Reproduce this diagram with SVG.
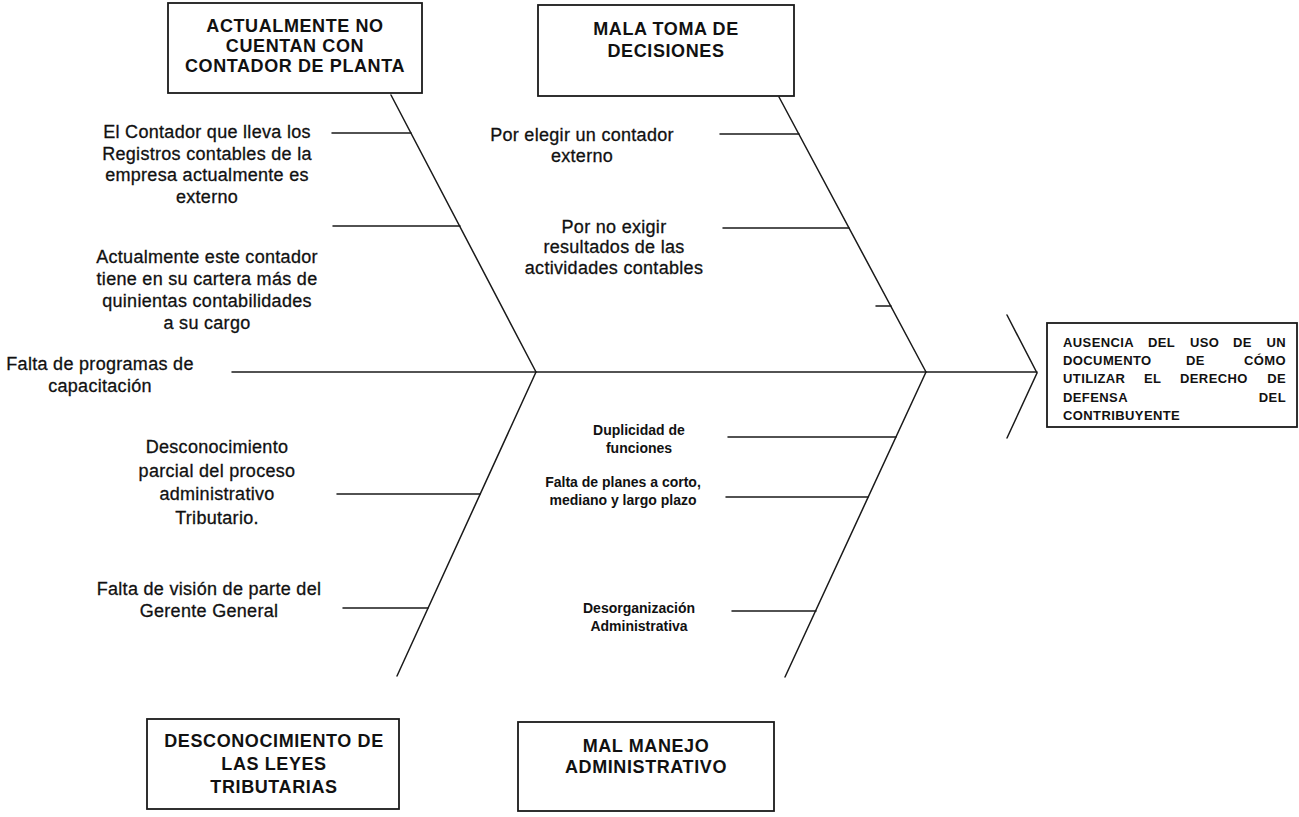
<svg xmlns="http://www.w3.org/2000/svg" width="1299" height="817" viewBox="0 0 1299 817">
<style>
.bg{fill:#fff}
.box{fill:#fff;stroke:#1a1a1a;stroke-width:1.8}
.ln{stroke:#1a1a1a;stroke-width:1.5;fill:none;stroke-linecap:round}
.t{font-family:"Liberation Sans",Arial,sans-serif;font-size:18px;fill:#111;stroke:#111;stroke-width:0.3;text-anchor:middle;letter-spacing:0.3px}
.h{font-family:"Liberation Sans",Arial,sans-serif;font-size:18px;font-weight:bold;fill:#111;text-anchor:middle;letter-spacing:0.6px}
.s{font-family:"Liberation Sans",Arial,sans-serif;font-size:14px;font-weight:bold;fill:#111;text-anchor:middle}
.e{font-family:"Liberation Sans",Arial,sans-serif;font-size:13px;font-weight:bold;fill:#111;letter-spacing:0.4px}
.end{text-anchor:end}
</style>
<rect class="bg" x="0" y="0" width="1299" height="817"/>

<g id="connectors">
  <line class="ln" x1="232" y1="372" x2="1037" y2="372"/>
  <polyline class="ln" points="1007,315 1037,373 1007,438"/>
  <line class="ln" x1="391" y1="95" x2="536" y2="372"/>
  <line class="ln" x1="536" y1="372" x2="397" y2="676"/>
  <line class="ln" x1="779" y1="97" x2="926" y2="372"/>
  <line class="ln" x1="926" y1="372" x2="785" y2="677"/>
  <line class="ln" x1="332" y1="133" x2="411" y2="133"/>
  <line class="ln" x1="333" y1="226" x2="460" y2="226"/>
  <line class="ln" x1="720" y1="134" x2="799" y2="134"/>
  <line class="ln" x1="723" y1="228" x2="849" y2="228"/>
  <line class="ln" x1="876" y1="306" x2="891" y2="306"/>
  <line class="ln" x1="337" y1="494" x2="480" y2="494"/>
  <line class="ln" x1="343" y1="608" x2="428" y2="608"/>
  <line class="ln" x1="728" y1="437" x2="896" y2="437"/>
  <line class="ln" x1="726" y1="497" x2="868" y2="497"/>
  <line class="ln" x1="732" y1="611" x2="816" y2="611"/>
</g>

<g id="cat-contador">
  <rect class="box" x="168" y="3" width="254" height="90"/>
  <text class="h" x="295" y="32">ACTUALMENTE NO</text>
  <text class="h" x="295" y="52">CUENTAN CON</text>
  <text class="h" x="295" y="72">CONTADOR DE PLANTA</text>
</g>

<g id="cat-decisiones">
  <rect class="box" x="538" y="5" width="256" height="91"/>
  <text class="h" x="666" y="35">MALA TOMA DE</text>
  <text class="h" x="666" y="57">DECISIONES</text>
</g>

<g id="cat-leyes">
  <rect class="box" x="147" y="719" width="252" height="90"/>
  <text class="h" x="274" y="747">DESCONOCIMIENTO DE</text>
  <text class="h" x="274" y="770">LAS LEYES</text>
  <text class="h" x="274" y="793">TRIBUTARIAS</text>
</g>

<g id="cat-manejo">
  <rect class="box" x="518" y="722" width="256" height="89"/>
  <text class="h" x="646" y="752">MAL MANEJO</text>
  <text class="h" x="646" y="773">ADMINISTRATIVO</text>
</g>

<g id="effect">
  <rect class="box" x="1047" y="323" width="250" height="104"/>
  <text class="e" x="1063" y="347">AUSENCIA</text>
  <text class="e" x="1148" y="347">DEL</text>
  <text class="e" x="1190" y="347">USO</text>
  <text class="e" x="1233" y="347">DE</text>
  <text class="e end" x="1286" y="347">UN</text>
  <text class="e" x="1063" y="365">DOCUMENTO</text>
  <text class="e" x="1186" y="365">DE</text>
  <text class="e end" x="1286" y="365">CÓMO</text>
  <text class="e" x="1063" y="383">UTILIZAR</text>
  <text class="e" x="1144" y="383">EL</text>
  <text class="e" x="1180" y="383">DERECHO</text>
  <text class="e end" x="1286" y="383">DE</text>
  <text class="e" x="1063" y="402">DEFENSA</text>
  <text class="e end" x="1286" y="402">DEL</text>
  <text class="e" x="1063" y="420">CONTRIBUYENTE</text>
</g>

<g id="cause-externo">
  <text class="t" x="207" y="138">El Contador que lleva los</text>
  <text class="t" x="207" y="160">Registros contables de la</text>
  <text class="t" x="207" y="181">empresa actualmente es</text>
  <text class="t" x="207" y="203">externo</text>
</g>

<g id="cause-cartera">
  <text class="t" x="207" y="263">Actualmente este contador</text>
  <text class="t" x="207" y="285">tiene en su cartera más de</text>
  <text class="t" x="207" y="307">quinientas contabilidades</text>
  <text class="t" x="207" y="329">a su cargo</text>
</g>

<g id="cause-capacitacion">
  <text class="t" x="100" y="370">Falta de programas de</text>
  <text class="t" x="100" y="392">capacitación</text>
</g>

<g id="cause-proceso">
  <text class="t" x="217" y="453">Desconocimiento</text>
  <text class="t" x="217" y="477">parcial del proceso</text>
  <text class="t" x="217" y="500">administrativo</text>
  <text class="t" x="217" y="524">Tributario.</text>
</g>

<g id="cause-vision">
  <text class="t" x="209" y="595">Falta de visión de parte del</text>
  <text class="t" x="209" y="617">Gerente General</text>
</g>

<g id="cause-elegir">
  <text class="t" x="582" y="141">Por elegir un contador</text>
  <text class="t" x="582" y="162">externo</text>
</g>

<g id="cause-exigir">
  <text class="t" x="614" y="233">Por no exigir</text>
  <text class="t" x="614" y="253">resultados de las</text>
  <text class="t" x="614" y="274">actividades contables</text>
</g>

<g id="cause-duplicidad">
  <text class="s" x="639" y="435">Duplicidad de</text>
  <text class="s" x="639" y="453">funciones</text>
</g>

<g id="cause-planes">
  <text class="s" x="623" y="487">Falta de planes a corto,</text>
  <text class="s" x="623" y="505">mediano y largo plazo</text>
</g>

<g id="cause-desorganizacion">
  <text class="s" x="639" y="613">Desorganización</text>
  <text class="s" x="639" y="631">Administrativa</text>
</g>
</svg>
